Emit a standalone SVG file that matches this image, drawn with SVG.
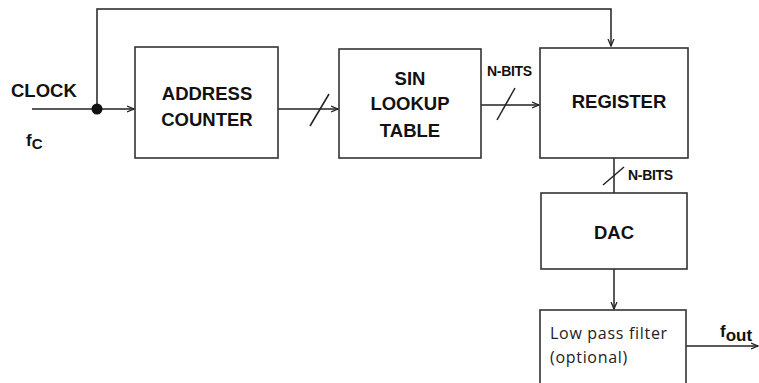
<svg xmlns="http://www.w3.org/2000/svg" width="759" height="383" viewBox="0 0 759 383">
<style>
.box{fill:#fff;stroke:#333;stroke-width:1.6}
.ln{fill:none;stroke:#222;stroke-width:1.5}
.t{font-family:"Liberation Sans",Arial,sans-serif;font-weight:bold;font-size:18.5px;fill:#111;text-anchor:middle}
.s{font-family:"Liberation Sans",Arial,sans-serif;font-weight:bold;font-size:14px;fill:#111;letter-spacing:-0.3px}
.c{font-family:"Open Sans","Liberation Sans",sans-serif;font-size:16px;letter-spacing:0.7px;fill:#222}
</style>
<defs>
<marker id="ah" markerWidth="8" markerHeight="8" refX="7" refY="4" orient="auto" markerUnits="userSpaceOnUse">
<path d="M0,1 L7,4 L0,7" fill="none" stroke="#222" stroke-width="1.3"/>
</marker>
</defs>
<rect width="759" height="383" fill="#fff"/>
<g id="connectors">
<path class="ln" d="M32,109 H134" marker-end="url(#ah)"/>
<path class="ln" d="M97,109 V9 H611 V46" marker-end="url(#ah)"/>
<circle cx="97" cy="109" r="5.5" fill="#111"/>
<path class="ln" d="M278,109 H338" marker-end="url(#ah)"/>
<path class="ln" d="M310,126 L329,94"/>
<path class="ln" d="M481,105 H539" marker-end="url(#ah)"/>
<path class="ln" d="M497,120 L515,88"/>
<path class="ln" d="M614,158 V193"/>
<path class="ln" d="M603,185 L624,167"/>
<path class="ln" d="M614,269 V309" marker-end="url(#ah)"/>
<path class="ln" d="M686,346 H758" marker-end="url(#ah)"/>
</g>
<g id="clock-label">
<text class="t" x="11" y="97" style="text-anchor:start">CLOCK</text>
<text x="26" y="146" font-family="Liberation Sans,Arial,sans-serif" font-weight="bold" font-size="17" fill="#111">f<tspan font-size="15" dy="3">C</tspan></text>
</g>
<g id="address-counter">
<rect class="box" x="135" y="47" width="143" height="111"/>
<text class="t" x="207" y="100">ADDRESS</text>
<text class="t" x="207" y="126">COUNTER</text>
</g>
<g id="sin-lookup">
<rect class="box" x="339" y="49" width="142" height="109"/>
<text class="t" x="410" y="85">SIN</text>
<text class="t" x="410" y="110">LOOKUP</text>
<text class="t" x="410" y="137">TABLE</text>
</g>
<text class="s" x="487" y="76">N-BITS</text>
<g id="register">
<rect class="box" x="540" y="48" width="148" height="110"/>
<text class="t" x="619" y="108">REGISTER</text>
</g>
<text class="s" x="628" y="180">N-BITS</text>
<g id="dac">
<rect class="box" x="541" y="193" width="146" height="76"/>
<text class="t" x="614" y="239">DAC</text>
</g>
<g id="lpf">
<rect class="box" x="540" y="310" width="146" height="80"/>
<text class="c" x="550" y="339">Low pass filter</text>
<text class="c" x="550" y="363">(optional)</text>
</g>
<g id="fout-label">
<text x="720" y="337" font-family="Liberation Sans,Arial,sans-serif" font-weight="bold" font-size="17" fill="#111">f<tspan font-size="17" dy="4">out</tspan></text>
</g>
</svg>
